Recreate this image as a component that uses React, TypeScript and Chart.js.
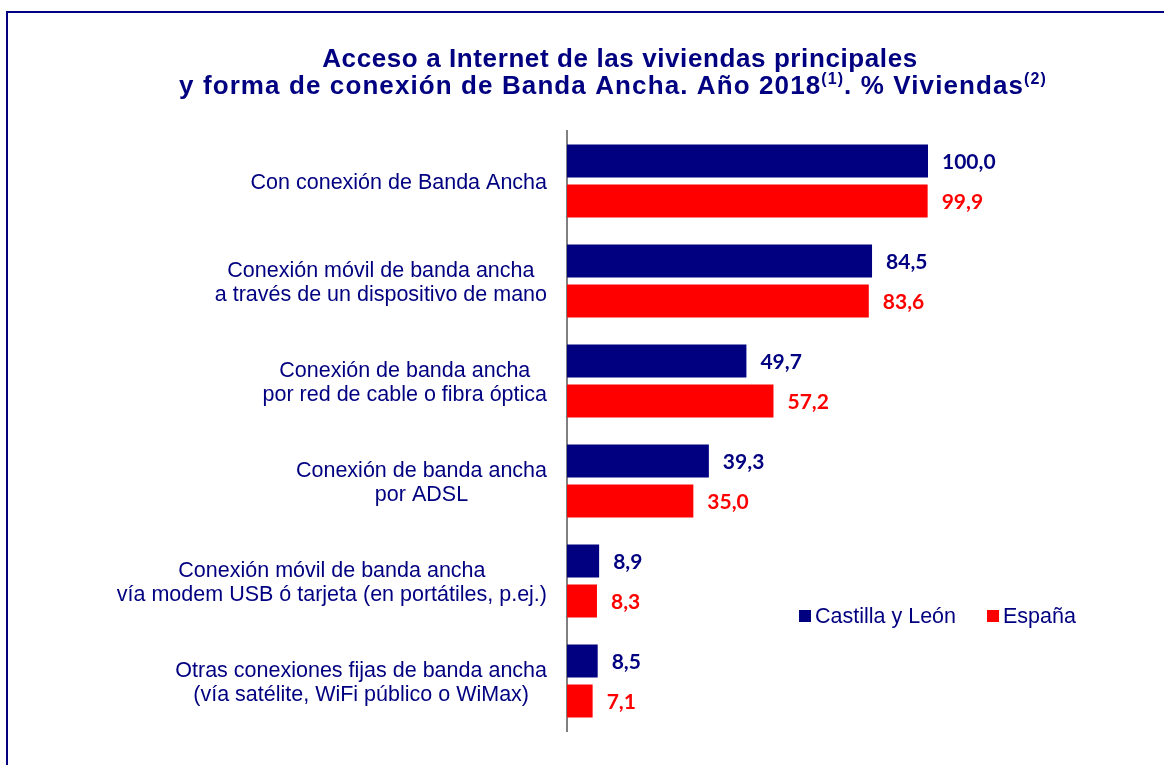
import React, { useEffect, useRef } from "react";
import { Chart, registerables } from "chart.js";

Chart.register(...registerables);

const categories: string[][] = [
  ["Con conexión de Banda Ancha"],
  ["Conexión móvil de banda ancha", "a través de un dispositivo de mano"],
  ["Conexión de banda ancha", "por red de cable o fibra óptica"],
  ["Conexión de banda ancha", "por ADSL"],
  ["Conexión móvil de banda ancha", "vía modem USB ó tarjeta (en portátiles, p.ej.)"],
  ["Otras conexiones fijas de banda ancha", "(vía satélite, WiFi público o WiMax)"],
];
const castillaLeon = [100.0, 84.5, 49.7, 39.3, 8.9, 8.5];
const espana = [99.9, 83.6, 57.2, 35.0, 8.3, 7.1];
const seriesNames = ["Castilla y León", "España"];
const seriesColors = ["#000080", "#FF0000"];
const titleLine1 = "Acceso a Internet de las viviendas principales";
// [text, isSuperscript]
const titleLine2: [string, boolean][] = [
  ["y forma de conexión de Banda Ancha. Año 2018", false],
  ["(1)", true],
  [". % Viviendas", false],
  ["(2)", true],
];

const NAVY = "#000080";
const W = 1164;
const H = 765;

const overlayPlugin = {
  id: "overlay",
  afterDraw(chart: any) {
    const ctx: CanvasRenderingContext2D = chart.ctx;
    const area = chart.chartArea;
    ctx.save();

    // Title
    ctx.fillStyle = NAVY;
    ctx.textBaseline = "alphabetic";
    ctx.textAlign = "left";
    const mainFont = 'bold 26px "Liberation Sans", Arial, sans-serif';
    const supFont = 'bold 16px "Liberation Sans", Arial, sans-serif';
    (ctx as any).letterSpacing = "0.6px";
    ctx.font = mainFont;
    const w1 = ctx.measureText(titleLine1).width;
    ctx.fillText(titleLine1, 620 - w1 / 2, 67);
    (ctx as any).letterSpacing = "1.1px";
    let total = 0;
    const widths = titleLine2.map(([t, sup]) => {
      ctx.font = sup ? supFont : mainFont;
      const w = ctx.measureText(t).width;
      total += w;
      return w;
    });
    let x = 613 - total / 2;
    titleLine2.forEach(([t, sup], i) => {
      ctx.font = sup ? supFont : mainFont;
      ctx.fillText(t, x, sup ? 84 : 94);
      x += widths[i];
    });
    (ctx as any).letterSpacing = "0px";

    // Category labels
    const yScale = chart.scales.y;
    ctx.font = '21.5px "Liberation Sans", Arial, sans-serif';
    ctx.textAlign = "center";
    const lineH = 24;
    const rightEdge = area.left - 20;
    categories.forEach((lines, i) => {
      const cy = yScale.getPixelForValue(i);
      const bw = Math.max(...lines.map((l) => ctx.measureText(l).width));
      const cx = rightEdge - bw / 2;
      lines.forEach((l, j) => {
        const by = cy + 7.7 + (j - (lines.length - 1) / 2) * lineH;
        ctx.fillText(l, cx, by);
      });
    });

    // Data labels
    ctx.font = 'bold 21px Lato, "Open Sans", sans-serif';
    ctx.textAlign = "left";
    ctx.textBaseline = "middle";
    chart.data.datasets.forEach((ds: any, d: number) => {
      const meta = chart.getDatasetMeta(d);
      ctx.fillStyle = seriesColors[d];
      meta.data.forEach((el: any, i: number) => {
        const v = ds.data[i] as number;
        ctx.fillText(v.toFixed(1).replace(".", ","), el.x + 14, el.y + 1);
      });
    });

    // Legend
    ctx.font = '21.5px "Liberation Sans", Arial, sans-serif';
    ctx.textBaseline = "alphabetic";
    let lx = area.left + 232;
    const ly = 623;
    seriesNames.forEach((name, d) => {
      ctx.fillStyle = seriesColors[d];
      ctx.fillRect(lx, ly - 13, 12, 12);
      ctx.fillStyle = NAVY;
      ctx.fillText(name, lx + 16, ly);
      lx += 16 + ctx.measureText(name).width + 31;
    });

    ctx.restore();
  },
};

export default function App() {
  const ref = useRef<HTMLCanvasElement | null>(null);
  useEffect(() => {
    if (!ref.current) return;
    const chart = new Chart(ref.current, {
      type: "bar",
      data: {
        labels: categories.map((c) => c.join(" ")),
        datasets: [
          {
            label: seriesNames[0],
            data: castillaLeon,
            backgroundColor: seriesColors[0],
            categoryPercentage: 0.8,
            barPercentage: 0.825,
          },
          {
            label: seriesNames[1],
            data: espana,
            backgroundColor: seriesColors[1],
            categoryPercentage: 0.8,
            barPercentage: 0.825,
          },
        ],
      },
      options: {
        indexAxis: "y",
        responsive: false,
        animation: false,
        layout: { padding: { top: 131, bottom: 34, left: 0, right: 55.5 } },
        scales: {
          x: { display: false, min: 0, max: 150 },
          y: {
            grid: { display: false },
            border: { display: true, color: "#808080", width: 2 },
            ticks: { display: false },
            afterFit: (s: any) => {
              s.width = 567;
            },
          },
        },
        plugins: {
          legend: { display: false },
          title: { display: false },
          tooltip: { enabled: false },
        },
      },
      plugins: [overlayPlugin],
    } as any);
    return () => chart.destroy();
  }, []);
  return (
    <div style={{ position: "fixed", left: 0, top: 0, width: W, height: H, overflow: "hidden", background: "#fff" }}>
      <div
        style={{
          position: "absolute",
          left: 6,
          top: 11,
          width: 1400,
          height: 1000,
          border: "2px solid #000080",
          boxSizing: "border-box",
        }}
      />
      <canvas ref={ref} width={W} height={H} style={{ position: "absolute", left: 0, top: 0, display: "block" }} />
    </div>
  );
}
